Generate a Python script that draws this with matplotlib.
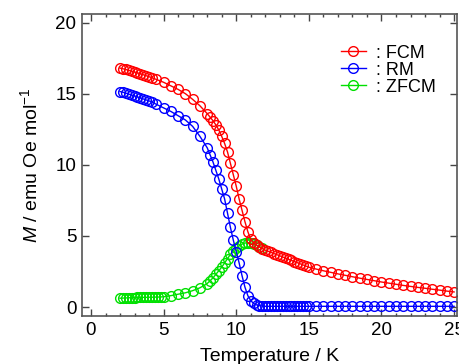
import matplotlib
matplotlib.use("Agg")
import matplotlib.pyplot as plt
from matplotlib.ticker import MultipleLocator

plt.rcParams['font.family'] = ['Liberation Sans', 'DejaVu Sans']
plt.rcParams['mathtext.fontset'] = 'custom'
plt.rcParams['mathtext.rm'] = 'Liberation Sans'
plt.rcParams['mathtext.it'] = 'Liberation Sans:italic'

# ---- data ----
T_fcm = [2.0, 2.2, 2.4, 2.6, 2.8, 3.0, 3.2, 3.4, 3.6, 3.8, 4.0, 4.2,
         4.5, 5.0, 5.5, 6.0, 6.5, 7.0, 7.5,
         8.0, 8.2, 8.4, 8.6, 8.8, 9.0, 9.2, 9.4, 9.6, 9.8, 10.0, 10.2, 10.4, 10.6, 10.8, 11.0,
         11.2, 11.4, 11.6, 11.8, 12.0, 12.2, 12.4, 12.6, 12.8, 13.0, 13.2, 13.4, 13.6, 13.8,
         14.0, 14.2, 14.4, 14.6, 14.8, 15.0,
         15.5, 16.0, 16.5, 17.0, 17.5, 18.0, 18.5, 19.0, 19.5, 20.0, 20.5, 21.0, 21.5, 22.0,
         22.5, 23.0, 23.5, 24.0, 24.5, 25.0]
M_fcm = [16.80, 16.75, 16.70, 16.64, 16.58, 16.52, 16.46, 16.40, 16.33, 16.26, 16.19, 16.12,
         16.00, 15.80, 15.55, 15.30, 15.00, 14.60, 14.15,
         13.60, 13.35, 13.10, 12.80, 12.45, 12.00, 11.50, 10.90, 10.10, 9.30, 8.50, 7.60, 6.80, 6.00, 5.30, 4.75,
         4.50, 4.35, 4.22, 4.10, 4.00, 3.92, 3.84, 3.76, 3.68, 3.60, 3.52, 3.44, 3.36, 3.28,
         3.20, 3.12, 3.04, 2.96, 2.88, 2.80,
         2.67, 2.55, 2.44, 2.33, 2.23, 2.13, 2.03, 1.94, 1.85, 1.76, 1.68, 1.60, 1.52, 1.45,
         1.38, 1.32, 1.25, 1.19, 1.12, 1.06]

T_rm = [2.0, 2.2, 2.4, 2.6, 2.8, 3.0, 3.2, 3.4, 3.6, 3.8, 4.0, 4.2,
        4.5, 5.0, 5.5, 6.0, 6.5, 7.0, 7.5,
        8.0, 8.2, 8.4, 8.6, 8.8, 9.0, 9.2, 9.4, 9.6, 9.8, 10.0, 10.2, 10.4, 10.6, 10.8, 11.0,
        11.2, 11.4, 11.6, 11.8, 12.0, 12.2, 12.4, 12.6, 12.8, 13.0, 13.2, 13.4, 13.6, 13.8,
        14.0, 14.2, 14.4, 14.6, 14.8, 15.0,
        15.5, 16.0, 16.5, 17.0, 17.5, 18.0, 18.5, 19.0, 19.5, 20.0, 20.5, 21.0, 21.5, 22.0,
        22.5, 23.0, 23.5, 24.0, 24.5, 25.0]
M_rm = [15.15, 15.10, 15.04, 14.97, 14.90, 14.84, 14.77, 14.70, 14.63, 14.56, 14.49, 14.42,
        14.25, 14.00, 13.75, 13.45, 13.15, 12.70, 12.00,
        11.20, 10.70, 10.20, 9.60, 9.00, 8.30, 7.60, 6.60, 5.60, 4.70, 3.90, 3.10, 2.20, 1.40, 0.80, 0.45,
        0.25, 0.15, 0.10, 0.07, 0.05, 0.05, 0.05, 0.05, 0.05, 0.05, 0.05, 0.05, 0.05, 0.05,
        0.05, 0.05, 0.05, 0.05, 0.05, 0.05,
        0.05, 0.05, 0.05, 0.05, 0.05, 0.05, 0.05, 0.05, 0.05, 0.05, 0.05, 0.05, 0.05, 0.05,
        0.05, 0.05, 0.05, 0.05, 0.05, 0.05]

T_zfcm = [2.0, 2.2, 2.4, 2.6, 2.8, 3.0, 3.2, 3.4, 3.6, 3.8, 4.0, 4.2, 4.4, 4.6, 4.8, 5.0,
          5.5, 6.0, 6.5, 7.0, 7.5,
          8.0, 8.2, 8.4, 8.6, 8.8, 9.0, 9.2, 9.4, 9.6, 9.8, 10.0, 10.2, 10.4, 10.6, 10.8, 11.0,
          11.2, 11.4, 11.6, 11.8]
M_zfcm = [0.62, 0.63, 0.64, 0.65, 0.66, 0.66, 0.67, 0.67, 0.68, 0.68, 0.69, 0.69, 0.70, 0.70, 0.71, 0.72,
          0.80, 0.90, 1.00, 1.15, 1.35,
          1.65, 1.85, 2.05, 2.30, 2.55, 2.80, 3.10, 3.40, 3.70, 3.95, 4.15, 4.30, 4.42, 4.50, 4.52, 4.50,
          4.45, 4.35, 4.25, 4.15]

series = [
    (T_fcm, M_fcm, '#ff0000', ': FCM'),
    (T_rm, M_rm, '#0000ff', ': RM'),
    (T_zfcm, M_zfcm, '#00e000', ': ZFCM'),
]

fig = plt.figure(figsize=(4.59, 3.64), dpi=100)
ax = fig.add_axes([0.1786, 0.1319, 0.8170, 0.8296])

# draw ZFCM below others
for T, M, c, lab in [series[2], series[1], series[0]]:
    ax.plot(T, M, '-o', color=c, mfc='none', mec=c, ms=7.0, mew=1.0, lw=1.0, label=lab)

ax.set_xlim(-0.62, 25.2)
ax.set_ylim(-0.63, 20.6)
ax.xaxis.set_major_locator(MultipleLocator(5))
ax.xaxis.set_minor_locator(MultipleLocator(1))
ax.yaxis.set_major_locator(MultipleLocator(5))

ax.tick_params(which='both', direction='in', top=True, right=True, colors='#444444',
               labelcolor='black', labelsize=13.5)
ax.tick_params(which='major', length=5, width=1.0, pad=4)
ax.tick_params(which='minor', length=2.5, width=1.0)
for s in ax.spines.values():
    s.set_color('#555555')
    s.set_linewidth(1.2)

ax.set_xlabel('Temperature / K', fontsize=14, labelpad=7)
ax.set_ylabel(r'$M$ / emu Oe mol$^{-1}$', fontsize=14, labelpad=10)

h, l = ax.get_legend_handles_labels()
order = [2, 1, 0]
ax.legend([h[i] for i in order], [l[i] for i in order], loc='upper left',
          bbox_to_anchor=(0.68, 0.91), frameon=False, fontsize=13,
          handlelength=1.4, handletextpad=0.55, labelspacing=0.0, borderpad=0.2,
          borderaxespad=0.0)

fig.savefig('out.png', dpi=100)
